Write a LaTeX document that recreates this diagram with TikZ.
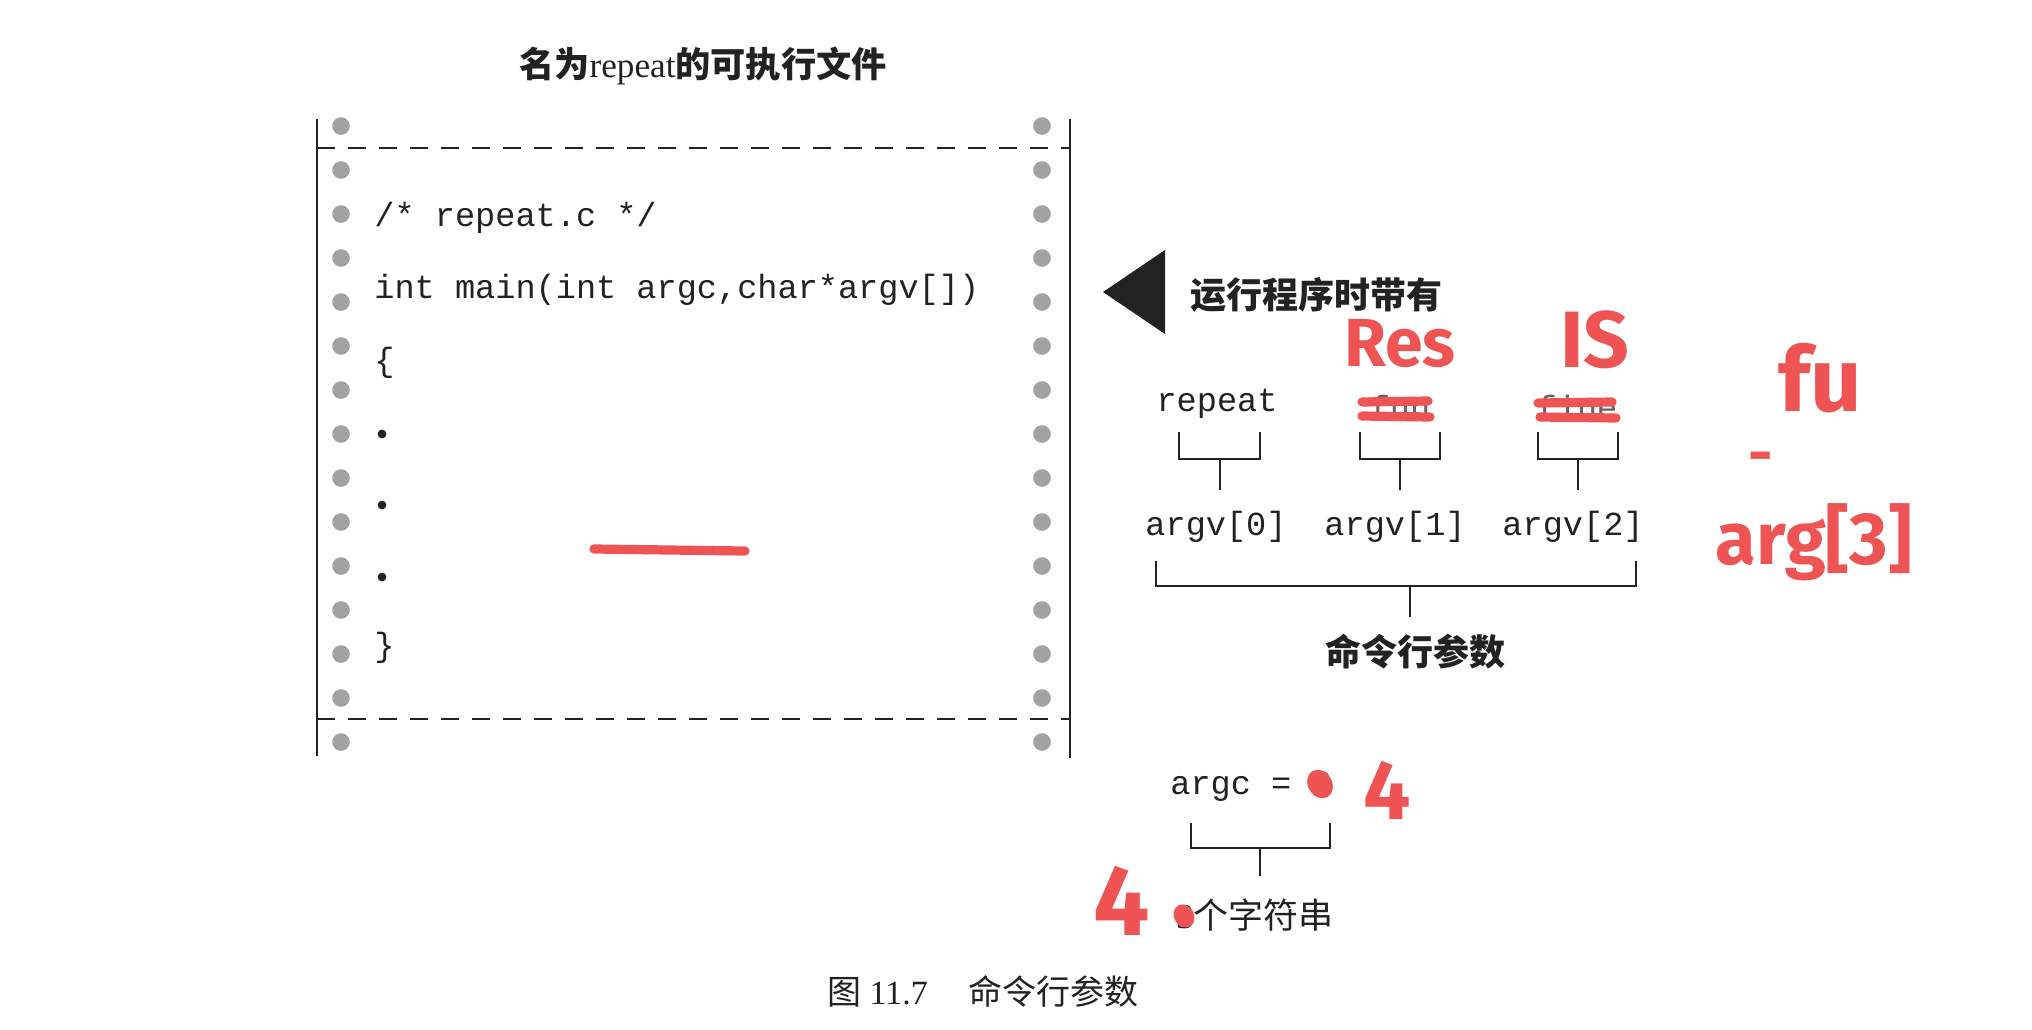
\documentclass[tikz,border=0pt]{standalone}
\usepackage{fontspec}
\setmainfont{Liberation Serif}
\setmonofont{Liberation Mono}
\newfontfamily\cjk{Noto Sans CJK SC}
\newfontfamily\hand{Fira Sans}
\definecolor{ink}{HTML}{222222}
\definecolor{pen}{HTML}{EE5454}
\definecolor{holegray}{HTML}{A2A2A2}
\tikzset{
  code/.style={font=\fontsize{16.8}{20}\selectfont\ttfamily, text=ink, anchor=west, inner sep=0pt},
  mono/.style={font=\fontsize{16.8}{20}\selectfont\ttfamily, text=ink, inner sep=0pt},
  hole/.style={circle, fill=holegray, minimum size=8.8pt, inner sep=0pt},
  bullet/.style={circle, fill=ink, minimum size=4.4pt, inner sep=0pt},
  frame/.style={draw=ink, line width=1.3pt},
  dashline/.style={draw=ink, line width=1.3pt, dash pattern=on 9pt off 6.5pt},
  brk/.style={draw=ink, line width=1pt},
  cjklabel/.style={text=ink, inner sep=0pt},
  redtext/.style={text=pen, inner sep=0pt, font=\hand\bfseries},
  redstroke/.style={draw=pen, line width=4.6pt, line cap=round},
  reddot/.style={fill=pen},
}
\begin{document}
\begin{tikzpicture}[x=0.5pt,y=-0.5pt]
\useasboundingbox (0,0) rectangle (2032,1029);
\fill[white] (0,0) rectangle (2032,1029);

% title
\node[cjklabel, font=\fontsize{17.6}{20}\selectfont] (title) at (703,66)
  {{\cjk\bfseries 名为}repeat{\cjk\bfseries 的可执行文件}};

% frame
\coordinate (ltop) at (317,119);
\coordinate (lbot) at (317,756);
\coordinate (rtop) at (1070,119);
\coordinate (rbot) at (1070,758);
\draw[frame] (ltop) -- (lbot);
\draw[frame] (rtop) -- (rbot);
\coordinate (dtl) at (317,148);
\coordinate (dtr) at (1070,148);
\coordinate (dbl) at (317,719);
\coordinate (dbr) at (1070,719);
\draw[dashline] (dtl) -- (dtr);
\draw[dashline] (dbl) -- (dbr);

% sprocket holes
\foreach \i in {0,...,14}{
  \node[hole] (hl\i) at (341,126+44*\i) {};
  \node[hole] (hr\i) at (1042,126+44*\i) {};
}

% code
\node[code] (c1) at (374,218) {/* repeat.c */};
\node[code] (c2) at (374,290) {int main(int argc,char*argv[])};
\node[code] (c3) at (374,363) {\{};
\node[bullet] (d1) at (382,434) {};
\node[bullet] (d2) at (382,505) {};
\node[bullet] (d3) at (382,577) {};
\node[code] (c4) at (374,648) {\}};

% triangle and run label
\coordinate (tipL) at (1103,292);
\coordinate (tipT) at (1165,250);
\coordinate (tipB) at (1165,334);
\fill[ink] (tipL) -- (tipT) -- (tipB) -- cycle;
\node[cjklabel, font=\cjk\fontsize{18}{20}\selectfont\bfseries, anchor=west] (run) at (1190,295) {运行程序时带有};

% command words
\node[mono] (w0) at (1217,404) {repeat};
\node[mono, text=ink!70] (w1) at (1400,407) {fun};
\node[mono, text=ink!70] (w2) at (1577,407) {fine};

% small brackets
\foreach \n/\l/\r in {0/1179/1260, 1/1360/1440, 2/1538/1618}{
  \coordinate (s\n a) at (\l,432);
  \coordinate (s\n b) at (\l,459);
  \coordinate (s\n c) at (\r,459);
  \coordinate (s\n d) at (\r,432);
  \coordinate (s\n m) at ({(\l+\r)/2},459);
  \coordinate (s\n e) at ({(\l+\r)/2},490);
  \draw[brk] (s\n a) -- (s\n b) -- (s\n c) -- (s\n d);
  \draw[brk] (s\n m) -- (s\n e);
}

% argv labels
\node[mono] (a0) at (1216,527) {argv[0]};
\node[mono] (a1) at (1395,527) {argv[1]};
\node[mono] (a2) at (1573,527) {argv[2]};

% big bracket
\coordinate (ba) at (1156,561);
\coordinate (bb) at (1156,586);
\coordinate (bc) at (1636,586);
\coordinate (bd) at (1636,561);
\coordinate (bm) at (1410,586);
\coordinate (be) at (1410,617);
\draw[brk] (ba) -- (bb) -- (bc) -- (bd);
\draw[brk] (bm) -- (be);
\node[cjklabel, font=\cjk\fontsize{18}{20}\selectfont\bfseries] (cmd) at (1415,652) {命令行参数};

% argc
\node[mono, anchor=west] (argc) at (1170,787) {argc = 3};
\coordinate (ga) at (1191,823);
\coordinate (gb) at (1191,848);
\coordinate (gc) at (1330,848);
\coordinate (gd) at (1330,823);
\coordinate (gm) at (1260,848);
\coordinate (ge) at (1260,876);
\draw[brk] (ga) -- (gb) -- (gc) -- (gd);
\draw[brk] (gm) -- (ge);
\node[cjklabel, font=\fontsize{17.5}{20}\selectfont, anchor=west] (three) at (1176,915) {3{\cjk 个字符串}};

% caption
\node[cjklabel, font=\fontsize{17}{20}\selectfont] (cap) at (983,991) {{\cjk 图} 11.7\hspace{1.2em}{\cjk 命令行参数}};

% red handwritten annotations
\draw[redstroke] (1362,402) -- (1428,401);
\draw[redstroke] (1362,416) -- (1430,417);
\draw[redstroke] (1538,403) -- (1612,402);
\draw[redstroke] (1540,417) -- (1616,418);
\coordinate (rl1) at (594,549);
\coordinate (rl2) at (745,551);
\draw[redstroke] (rl1) -- (rl2);
\fill[reddot, rotate around={30:(1320,784)}] (1320,784) ellipse (12 and 15);
\fill[reddot, rotate around={30:(1184,916)}] (1184,916) ellipse (10 and 12);
\node[redtext, font=\hand\bfseries\fontsize{34}{36}\selectfont] (res) at (1400,344) {Res};
\node[redtext, font=\hand\bfseries\fontsize{40}{42}\selectfont] (is) at (1595,340) {IS};
\node[redtext, font=\hand\bfseries\fontsize{45}{47}\selectfont] (fu) at (1820,378) {fu};
\node[redtext, font=\hand\bfseries\fontsize{30}{32}\selectfont] (dash) at (1761,463) {-};
\node[redtext, font=\hand\bfseries\fontsize{37}{40}\selectfont] (arg3) at (1814,542) {arg[3]};
\node[redtext, font=\hand\bfseries\fontsize{42}{44}\selectfont] (four1) at (1387,790) {4};
\node[redtext, font=\hand\bfseries\fontsize{50}{52}\selectfont] (four2) at (1122,901) {4};
\end{tikzpicture}
\end{document}
